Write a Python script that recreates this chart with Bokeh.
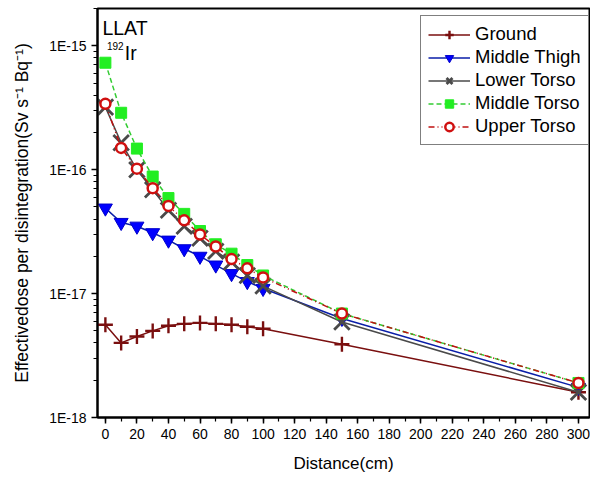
from bokeh.plotting import figure
from bokeh.models import (Range1d, FixedTicker, LogTicker, CustomJSTickFormatter,
                          Legend, LegendItem, Label)
from bokeh.embed import file_html
from bokeh.resources import INLINE

# Effective dose per disintegration (Sv s^-1 Bq^-1) vs. source distance, LLAT, Ir-192
distance = [0, 10, 20, 30, 40, 50, 60, 70, 80, 90, 100, 150, 300]

ground = [5.6e-18, 4.0e-18, 4.5e-18, 5.0e-18, 5.5e-18, 5.7e-18, 5.8e-18,
          5.7e-18, 5.6e-18, 5.4e-18, 5.2e-18, 3.9e-18, 1.6e-18]
middle_thigh = [4.9e-17, 3.75e-17, 3.5e-17, 3.1e-17, 2.7e-17, 2.3e-17, 2.0e-17,
                1.7e-17, 1.45e-17, 1.25e-17, 1.1e-17, 6.3e-18, 1.75e-18]
lower_torso = [3.2e-16, 1.65e-16, 1.0e-16, 6.9e-17, 4.7e-17, 3.5e-17, 2.8e-17,
               2.2e-17, 1.8e-17, 1.4e-17, 1.15e-17, 5.9e-18, 1.6e-18]
middle_torso = [7.3e-16, 2.88e-16, 1.48e-16, 8.8e-17, 5.9e-17, 4.4e-17, 3.2e-17,
                2.5e-17, 2.1e-17, 1.7e-17, 1.4e-17, 6.9e-18, 1.9e-18]
upper_torso = [3.4e-16, 1.5e-16, 1.02e-16, 7.1e-17, 5.1e-17, 3.9e-17, 3.0e-17,
               2.4e-17, 1.9e-17, 1.6e-17, 1.35e-17, 6.9e-18, 1.9e-18]

x_ticks = list(range(0, 301, 20))

FONT = "Liberation Sans"

p = figure(width=590, height=477, y_axis_type="log",
           x_range=Range1d(-5, 307), y_range=Range1d(1e-18, 2e-15),
           output_backend="svg", toolbar_location=None,
           min_border_left=97, min_border_right=1, min_border_top=8,
           min_border_bottom=60)
p.grid.visible = False
p.background_fill_color = "white"
p.outline_line_color = "black"
p.outline_line_width = 2

# axes
p.xaxis.ticker = FixedTicker(ticks=x_ticks, minor_ticks=list(range(0, 311, 10)))
p.yaxis.ticker = LogTicker(num_minor_ticks=10)
p.yaxis.formatter = CustomJSTickFormatter(
    code="return '1E' + Math.round(Math.log10(tick));")
for ax in (p.xaxis, p.yaxis):
    ax.axis_line_width = 2
    ax.axis_line_color = "black"
    ax.major_tick_line_width = 1.5
    ax.minor_tick_line_width = 1.2
    ax.major_tick_out = 6
    ax.major_tick_in = 0
    ax.minor_tick_out = 4
    ax.minor_tick_in = 0
    ax.major_label_text_font = FONT
    ax.major_label_text_font_size = "14px"
    ax.major_label_text_color = "black"
    ax.axis_label_text_font = FONT
    ax.axis_label_text_font_style = "normal"
    ax.axis_label_text_color = "black"
p.xaxis.axis_label_text_font_size = "17px"
p.yaxis.axis_label_text_font_size = "17.5px"
p.xaxis.axis_label = "Distance(cm)"
p.yaxis.axis_label = "Effectivedose per disintegration(Sv s\u207b\u00b9 Bq\u207b\u00b9)"
p.xaxis.axis_label_standoff = 12
p.yaxis.axis_label_standoff = 14

# series
items = []
l = p.line(distance, ground, line_color="#7a0f0f", line_width=1.5)
m = p.scatter(distance, ground, marker="cross", size=15, line_color="#7a0f0f",
              line_width=2.4)
items.append(LegendItem(label="Ground", renderers=[l, m]))

l = p.line(distance, middle_thigh, line_color="#0a1ea8", line_width=1.5)
m = p.scatter(distance, middle_thigh, marker="inverted_triangle", size=14,
              fill_color="#0000ff", line_color="#0000cc")
items.append(LegendItem(label="Middle Thigh", renderers=[l, m]))

l = p.line(distance, lower_torso, line_color="#4a4a4a", line_width=1.5)
m = p.scatter(distance, lower_torso, marker="x", size=22, line_color="#4a4a4a",
              line_width=2.8)
items.append(LegendItem(label="Lower Torso", renderers=[l, m]))

l = p.line(distance, middle_torso, line_color="#33cc33", line_width=1.5,
           line_dash="5 3")
m = p.scatter(distance, middle_torso, marker="square", size=11,
              fill_color="#22ee22", line_color="#22ee22")
items.append(LegendItem(label="Middle Torso", renderers=[l, m]))

l = p.line(distance, upper_torso, line_color="#c01010", line_width=1.5,
           line_dash="6 3 1 3 1 3")
m = p.scatter(distance, upper_torso, marker="circle", size=10,
              fill_color="white", line_color="#d01010", line_width=2.5)
items.append(LegendItem(label="Upper Torso", renderers=[l, m]))

legend = Legend(items=items, location=(323, 272), border_line_color="black",
                border_line_width=1, background_fill_alpha=1,
                label_text_font=FONT, label_text_font_size="18.5px",
                label_text_color="black",
                glyph_width=42, glyph_height=21, spacing=1, padding=7,
                label_standoff=5, margin=0)
p.add_layout(legend)

# panel annotation
p.add_layout(Label(x=-1.9, y=1.39e-15, text="LLAT", text_font=FONT,
                   text_font_size="19.5px", text_color="black",
                   text_baseline="alphabetic"))
p.add_layout(Label(x=1.0, y=1.0e-15, text="192", text_font=FONT,
                   text_font_size="10px", text_color="black",
                   text_baseline="alphabetic"))
p.add_layout(Label(x=12.3, y=8.8e-16, text="Ir", text_font=FONT,
                   text_font_size="19.5px", text_color="black",
                   text_baseline="alphabetic"))

open("out.html", "w").write(file_html(p, INLINE))
